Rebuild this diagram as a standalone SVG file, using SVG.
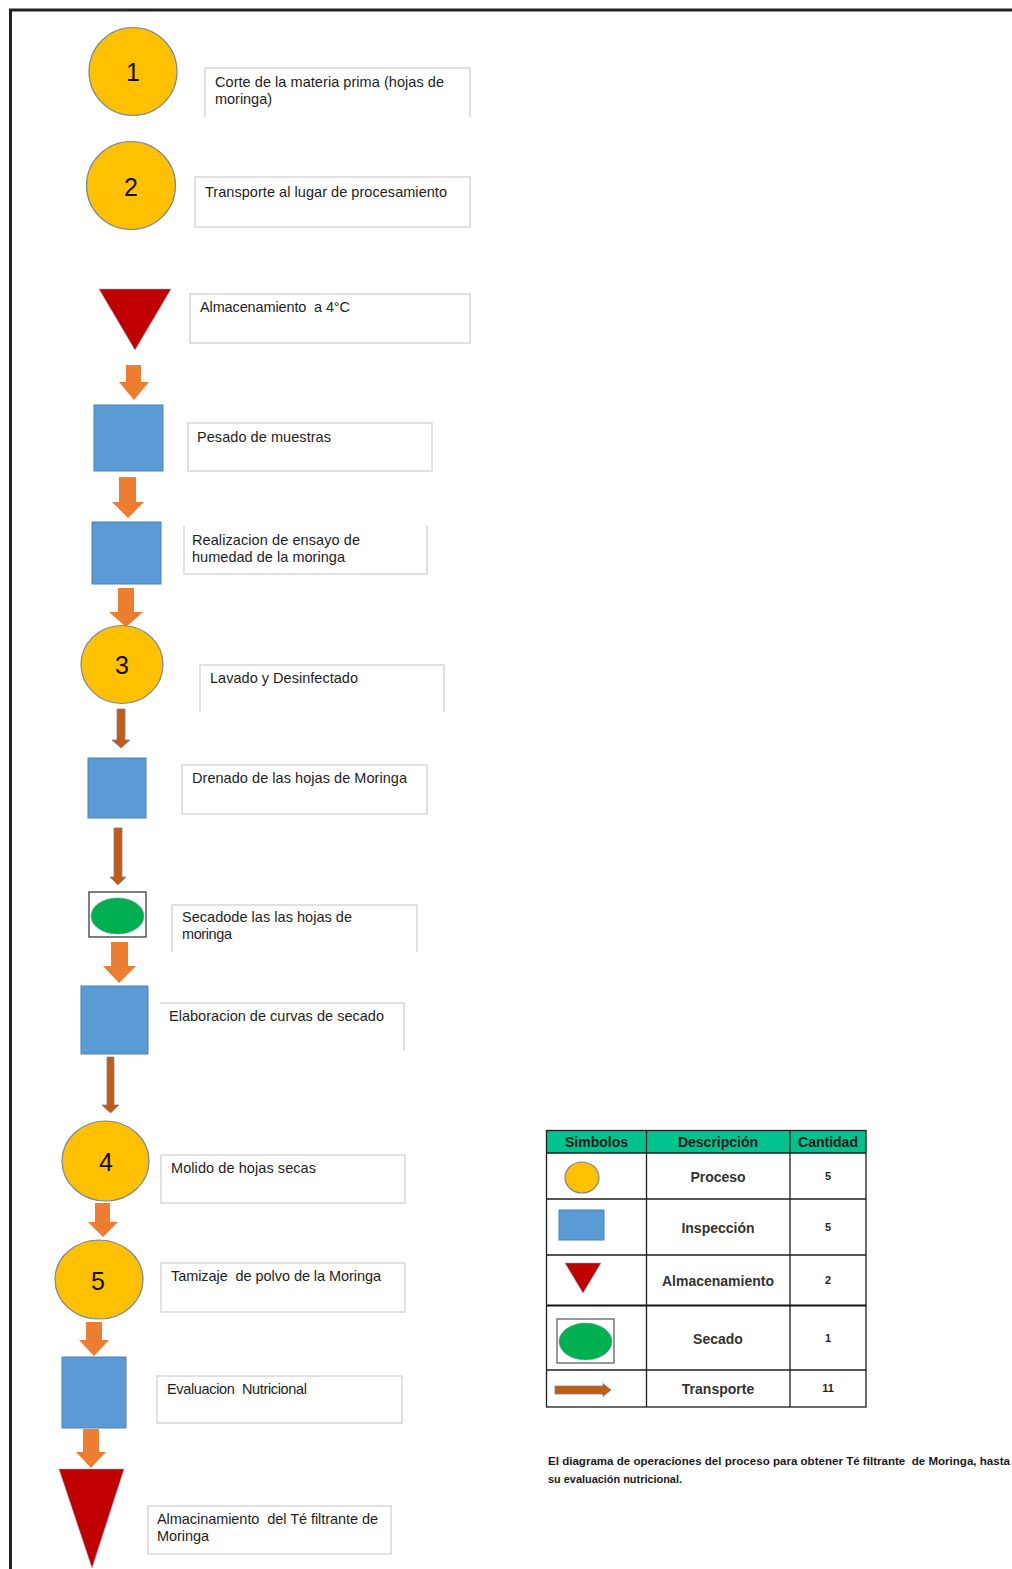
<svg xmlns="http://www.w3.org/2000/svg" width="1012" height="1569" viewBox="0 0 1012 1569">
<style>
.frame{fill:none;stroke:#24221c;stroke-width:3}
.proc{fill:#ffc000;stroke:#7a869a;stroke-width:1.2}
.insp{fill:#5b9bd5;stroke:#4a82b8;stroke-width:1}
.alm{fill:#c00000;stroke:#9aa3b5;stroke-width:0.6}
.sec{fill:#00b050;stroke:#6f8fb0;stroke-width:0.6}
.secbox{fill:#fff;stroke:#2a2a2a;stroke-width:1.2}
.fat{fill:#ed7d31;stroke:none}
.thin{fill:#c55a11;stroke:#6f87a6;stroke-width:0.8}
.tb{fill:none;stroke:#d8d8d8;stroke-width:1.5}
.lbl{font-family:"Liberation Sans",Arial,sans-serif;font-size:14.5px;fill:#1e1e1e}
.num{font-family:"Liberation Sans",Arial,sans-serif;font-size:25px;fill:#111;text-anchor:middle}
.th{font-family:"Liberation Sans",Arial,sans-serif;font-size:14px;font-weight:bold;fill:#1a1a1a;text-anchor:middle}
.td{font-family:"Liberation Sans",Arial,sans-serif;font-size:14px;font-weight:bold;fill:#333;text-anchor:middle}
.tn{font-family:"Liberation Sans",Arial,sans-serif;font-size:11px;font-weight:bold;fill:#262626;text-anchor:middle}
.cap{font-family:"Liberation Sans",Arial,sans-serif;font-size:11px;font-weight:bold;fill:#1a1a1a}
.grid{stroke:#1e1e1e;stroke-width:1.3;fill:none}
</style>
<rect width="1012" height="1569" fill="#fff"/>
<path class="frame" d="M10.5,1569 V10 H1012"/>

<g id="node1">
<ellipse class="proc" cx="133" cy="71.5" rx="44" ry="44"/>
<text class="num" x="133" y="81">1</text>
<path class="tb" d="M205,117 V68 H470 V117"/>
<text class="lbl" x="215" y="87" textLength="229" lengthAdjust="spacing">Corte de la materia prima (hojas de</text>
<text class="lbl" x="215" y="104" textLength="57" lengthAdjust="spacing">moringa)</text>
</g>

<g id="node2">
<ellipse class="proc" cx="131" cy="185.5" rx="44.5" ry="44"/>
<text class="num" x="131" y="196">2</text>
<rect class="tb" x="195" y="177" width="275" height="50"/>
<text class="lbl" x="205" y="197" textLength="242" lengthAdjust="spacing">Transporte al lugar de procesamiento</text>
</g>

<g id="node3">
<polygon class="alm" points="99,289 171,289 135,350"/>
<rect class="tb" x="190" y="294" width="280" height="49"/>
<text class="lbl" x="200" y="312" textLength="150" lengthAdjust="spacing" xml:space="preserve">Almacenamiento  a 4°C</text>
</g>

<g id="node4">
<rect class="insp" x="94" y="405" width="69" height="66"/>
<rect class="tb" x="188" y="423" width="244" height="48"/>
<text class="lbl" x="197" y="442" textLength="134" lengthAdjust="spacing">Pesado de muestras</text>
</g>

<g id="node5">
<rect class="insp" x="92" y="522" width="69" height="62"/>
<path class="tb" d="M184,526 V574 H427 V526"/>
<text class="lbl" x="192" y="545" textLength="168" lengthAdjust="spacing">Realizacion de ensayo de</text>
<text class="lbl" x="192" y="562" textLength="153" lengthAdjust="spacing">humedad de la moringa</text>
</g>

<g id="node6">
<ellipse class="proc" cx="122" cy="664.5" rx="41" ry="39"/>
<text class="num" x="122" y="674">3</text>
<path class="tb" d="M200,712 V665 H444 V712"/>
<text class="lbl" x="210" y="683" textLength="148" lengthAdjust="spacing">Lavado y Desinfectado</text>
</g>

<g id="node7">
<rect class="insp" x="88" y="758" width="58" height="60"/>
<rect class="tb" x="182" y="765" width="245" height="49"/>
<text class="lbl" x="192" y="783" textLength="215" lengthAdjust="spacing">Drenado de las hojas de Moringa</text>
</g>

<g id="node8">
<rect class="secbox" x="89" y="892" width="57" height="45"/>
<ellipse class="sec" cx="117.5" cy="916" rx="26.5" ry="18"/>
<path class="tb" d="M172,952 V905 H417 V952"/>
<text class="lbl" x="182" y="922" textLength="170" lengthAdjust="spacing">Secadode las las hojas de</text>
<text class="lbl" x="182" y="939" textLength="50" lengthAdjust="spacing">moringa</text>
</g>

<g id="node9">
<rect class="insp" x="81" y="986" width="67" height="68"/>
<path class="tb" d="M160,1003 H404 V1050"/>
<text class="lbl" x="169" y="1021" textLength="215" lengthAdjust="spacing">Elaboracion de curvas de secado</text>
</g>

<g id="node10">
<ellipse class="proc" cx="105.5" cy="1161" rx="43.5" ry="40"/>
<text class="num" x="106" y="1171">4</text>
<rect class="tb" x="161" y="1155" width="244" height="48"/>
<text class="lbl" x="171" y="1173" textLength="145" lengthAdjust="spacing">Molido de hojas secas</text>
</g>

<g id="node11">
<ellipse class="proc" cx="99" cy="1279.5" rx="44" ry="39.5"/>
<text class="num" x="98" y="1290">5</text>
<rect class="tb" x="161" y="1263" width="244" height="49"/>
<text class="lbl" x="171" y="1281" textLength="210" lengthAdjust="spacing" xml:space="preserve">Tamizaje  de polvo de la Moringa</text>
</g>

<g id="node12">
<rect class="insp" x="62" y="1357" width="64" height="71"/>
<rect class="tb" x="157" y="1376" width="245" height="47"/>
<text class="lbl" x="167" y="1394" textLength="140" lengthAdjust="spacing" xml:space="preserve">Evaluacion  Nutricional</text>
</g>

<g id="node13">
<polygon class="alm" points="59,1469 124,1469 92,1568"/>
<rect class="tb" x="148" y="1506" width="243" height="48"/>
<text class="lbl" x="157" y="1524" textLength="221" lengthAdjust="spacing" xml:space="preserve">Almacinamiento  del Té filtrante de</text>
<text class="lbl" x="157" y="1541" textLength="52" lengthAdjust="spacing">Moringa</text>
</g>

<g id="connectors">
<path class="fat" d="M126,365 H141 V382 H149 L134,400 L119,382 H126 Z"/>
<path class="fat" d="M119,477 H136 V502 H144 L128,518 L112,502 H119 Z"/>
<path class="fat" d="M118,588 H134 V612 H143 L126,627 L109,612 H118 Z"/>
<path class="thin" d="M117,709 H125 V740 H130 L121,748 L112,740 H117 Z"/>
<path class="thin" d="M114,828 H122 V877 H126 L118,885 L110,877 H114 Z"/>
<path class="fat" d="M111,942 H128 V966 H136 L119,983 L103,966 H111 Z"/>
<path class="thin" d="M107,1057 H114 V1105 H119 L110.5,1113 L102,1105 H107 Z"/>
<path class="fat" d="M95,1203 H110 V1222 H118 L103,1237 L88,1222 H95 Z"/>
<path class="fat" d="M86,1322 H102 V1340 H109 L94,1356 L79,1340 H86 Z"/>
<path class="fat" d="M83,1429 H99 V1452 H106 L91,1468 L76,1452 H83 Z"/>
</g>

<g id="legend">
<rect x="546.5" y="1130.5" width="319.5" height="22.5" fill="#00c28e"/>
<rect class="grid" x="546.5" y="1130.5" width="319.5" height="276.5"/>
<line class="grid" x1="646.5" y1="1130.5" x2="646.5" y2="1407"/>
<line class="grid" x1="790" y1="1130.5" x2="790" y2="1407"/>
<line class="grid" x1="546.5" y1="1153" x2="866" y2="1153"/>
<line class="grid" x1="546.5" y1="1199" x2="866" y2="1199"/>
<line class="grid" x1="546.5" y1="1255" x2="866" y2="1255"/>
<line x1="546.5" y1="1305.5" x2="866" y2="1305.5" stroke="#111" stroke-width="2"/>
<line class="grid" x1="546.5" y1="1370" x2="866" y2="1370"/>
<text class="th" x="596.5" y="1147">Simbolos</text>
<text class="th" x="718" y="1147">Descripción</text>
<text class="th" x="828" y="1147">Cantidad</text>
<ellipse class="proc" cx="582" cy="1177.5" rx="17" ry="15.5"/>
<text class="td" x="718" y="1182">Proceso</text>
<text class="tn" x="828" y="1180">5</text>
<rect class="insp" x="559" y="1210" width="45" height="30"/>
<text class="td" x="718" y="1233">Inspección</text>
<text class="tn" x="828" y="1231">5</text>
<polygon class="alm" points="565,1263 601,1263 583,1293"/>
<text class="td" x="718" y="1286">Almacenamiento</text>
<text class="tn" x="828" y="1284">2</text>
<rect x="557" y="1319" width="57" height="44" fill="#fff" stroke="#555" stroke-width="1.2"/>
<ellipse class="sec" cx="585.5" cy="1341.5" rx="26.5" ry="18.5"/>
<text class="td" x="718" y="1344">Secado</text>
<text class="tn" x="828" y="1342">1</text>
<path class="thin" d="M555,1386 H603 V1383.5 L611,1390 L603,1396.5 V1394 H555 Z"/>
<text class="td" x="718" y="1394">Transporte</text>
<text class="tn" x="828" y="1392">11</text>
</g>

<g id="caption">
<text class="cap" x="548" y="1465" textLength="462" lengthAdjust="spacingAndGlyphs" xml:space="preserve">El diagrama de operaciones del proceso para obtener Té filtrante  de Moringa, hasta</text>
<text class="cap" x="548" y="1483" textLength="134" lengthAdjust="spacingAndGlyphs">su evaluación nutricional.</text>
</g>
</svg>
